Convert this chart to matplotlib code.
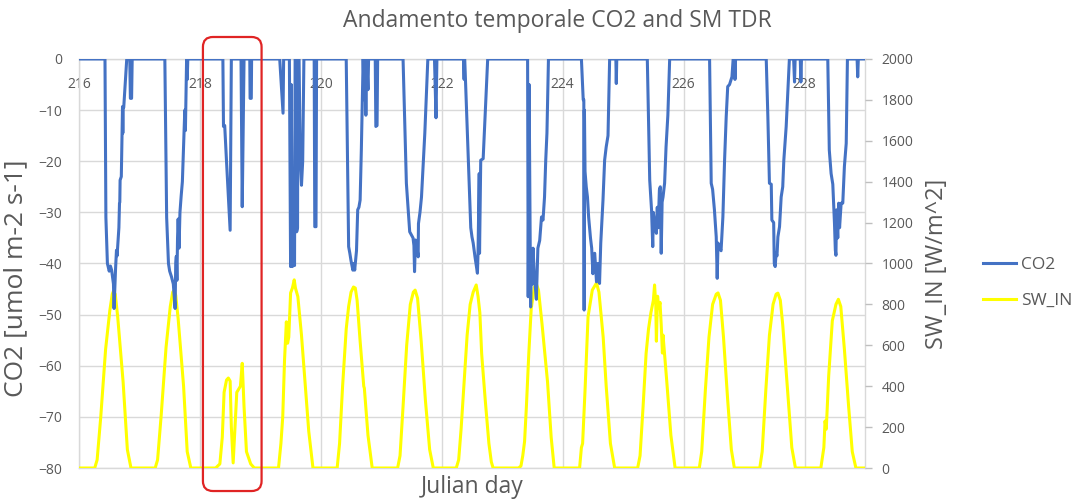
import matplotlib
matplotlib.use("Agg")
import matplotlib.pyplot as plt
from matplotlib.patches import FancyBboxPatch

plt.rcParams['font.family'] = ['Open Sans', 'DejaVu Sans']

# CO2 flux (umol m-2 s-1) as (Julian day, value) pairs, one line per day
co2_points = [
    (216.00, 0), (216.43, 0), (216.445, -31), (216.47, -40), (216.50, -41.5), (216.52, -40.5), (216.54, -41.3),
    (216.57, -44), (216.58, -48.8), (216.595, -44), (216.605, -41), (216.62, -37.4), (216.63, -38.5), (216.66, -33),
    (216.67, -28.2), (216.675, -28), (216.68, -23.7), (216.70, -23), (216.71, -15.9), (216.72, -9.3), (216.725, -14.5),
    (216.73, -9.5), (216.74, -9.5), (216.79, 0), (216.84, 0), (216.85, -7.7), (216.87, -7.7), (216.88, 0),
    (217.42, 0), (217.45, -31), (217.48, -40), (217.50, -41.5), (217.53, -42.6), (217.56, -44), (217.59, -48.8),
    (217.60, -40), (217.61, -38.6), (217.62, -43.3), (217.63, -35), (217.64, -31.3), (217.655, -37), (217.67, -30),
    (217.69, -26.8), (217.71, -24), (217.75, -10), (217.76, -14), (217.78, 0), (217.79, -4), (217.80, 0),
    (218.38, 0), (218.39, -13.2), (218.41, -13), (218.44, -20), (218.50, -33.5), (218.52, 0), (218.68, 0),
    (218.70, -28.9), (218.73, 0), (218.825, 0), (218.83, -7.7), (218.85, -7.7), (218.855, 0),
    (219.32, 0), (219.375, -10.6), (219.385, 0), (219.48, 0), (219.50, -40.6), (219.51, -5), (219.53, -40.6),
    (219.55, -38), (219.565, -40.4), (219.575, 0), (219.59, 0), (219.60, -33.8), (219.615, -33), (219.62, 0),
    (219.64, 0), (219.66, -20), (219.68, -24.7), (219.70, -20), (219.72, 0), (219.89, 0), (219.90, -32.8),
    (219.92, -32.8), (219.93, 0),
    (220.42, 0), (220.46, -36.7), (220.48, -38), (220.50, -39.5), (220.53, -41.3), (220.55, -40), (220.56, -41.3),
    (220.59, -37.5), (220.61, -29.5), (220.63, -29), (220.65, -27.6), (220.67, -17.8), (220.70, 0), (220.72, -8),
    (220.73, 0), (220.745, -11), (220.76, 0), (220.78, -6), (220.79, 0), (220.90, 0), (220.91, -13.2),
    (220.93, -13), (220.94, 0),
    (221.36, 0), (221.415, -24.3), (221.47, -33.8), (221.525, -35), (221.54, -36.5), (221.55, -41.6),
    (221.565, -35.4), (221.58, -36), (221.61, -38.7), (221.615, -32.2), (221.64, -30), (221.665, -27),
    (221.72, -14.5), (221.77, 0), (221.88, 0), (221.905, -11.5), (221.92, 0),
    (222.36, 0), (222.37, -4), (222.375, 0), (222.38, 0), (222.46, -26.5), (222.48, -33), (222.50, -34.8),
    (222.52, -36), (222.55, -38.7), (222.59, -41.9), (222.60, -38), (222.62, -22.4), (222.625, -38),
    (222.645, -19.8), (222.685, -19.5), (222.76, 0),
    (223.42, 0), (223.43, -46.5), (223.445, -5), (223.47, -48.5), (223.48, -42), (223.50, -44), (223.51, -37),
    (223.53, -42), (223.565, -47), (223.59, -37), (223.62, -35.5), (223.65, -30.9), (223.675, -31.5),
    (223.70, -27), (223.72, -19.8), (223.74, -14.5), (223.765, 0),
    (224.31, 0), (224.34, -8), (224.35, -8), (224.355, -49.1), (224.36, -10), (224.37, -22), (224.39, -25),
    (224.41, -27), (224.43, -31), (224.46, -35), (224.48, -37), (224.50, -42), (224.53, -38), (224.56, -43.6),
    (224.58, -40), (224.61, -43.9), (224.63, -36), (224.667, -27.6), (224.694, -19.8), (224.72, -17.2),
    (224.75, -15), (224.777, 0), (224.88, 0), (224.887, -4.8), (224.895, 0),
    (225.40, 0), (225.44, -23.7), (225.47, -29.5), (225.49, -36.7), (225.50, -30), (225.52, -32), (225.55, -34.1),
    (225.565, -29), (225.58, -33), (225.60, -25.6), (225.615, -25), (225.63, -38), (225.645, -28), (225.66, -27),
    (225.686, -24.3), (225.71, -17.2), (225.74, -11), (225.77, 0),
    (226.43, 0), (226.457, -24.3), (226.48, -25.5), (226.51, -29.5), (226.54, -34.8), (226.556, -42.9),
    (226.57, -36), (226.595, -37), (226.62, -37.5), (226.65, -30.9), (226.678, -19.8), (226.705, -11.3),
    (226.73, -5.4), (226.76, -5), (226.80, -3.5), (226.82, 0), (226.84, 0), (226.85, -4), (226.86, 0),
    (227.367, 0), (227.394, -11.3), (227.42, -24.3), (227.45, -24.5), (227.46, -31.5), (227.49, -32),
    (227.50, -40), (227.515, -40.6), (227.53, -38), (227.545, -38.5), (227.56, -34.8), (227.587, -32.8),
    (227.614, -27), (227.64, -25), (227.658, -19.8), (227.697, -13.2), (227.75, 0), (227.82, 0),
    (227.835, -4.5), (227.845, 0), (227.93, 0), (227.94, -4.5), (227.95, 0),
    (228.385, 0), (228.41, -17.8), (228.44, -22.4), (228.468, -24.5), (228.496, -32.2), (228.51, -37.4),
    (228.52, -38.4), (228.53, -29.5), (228.55, -35), (228.565, -28.2), (228.58, -33), (228.606, -28.2),
    (228.633, -28.2), (228.66, -21), (228.69, -16.5), (228.71, 0), (228.87, 0), (228.88, -3.5), (228.89, 0),
    (229.00, 0),
]

# Incoming short-wave radiation (W/m^2) as (Julian day, value) pairs
sw_points = [
    (216.00, 0), (216.26, 0), (216.30, 40), (216.36, 250), (216.44, 580), (216.51, 770), (216.55, 850),
    (216.57, 865), (216.60, 850), (216.64, 740), (216.73, 420), (216.80, 90), (216.86, 0),
    (217.26, 0), (217.30, 40), (217.36, 260), (217.44, 590), (217.51, 790), (217.55, 860), (217.57, 868),
    (217.60, 845), (217.64, 730), (217.73, 400), (217.79, 80), (217.85, 0),
    (218.26, 0), (218.33, 20), (218.37, 150), (218.40, 370), (218.44, 430), (218.47, 440), (218.50, 425),
    (218.52, 200), (218.55, 25), (218.58, 200), (218.61, 370), (218.67, 400), (218.70, 512), (218.73, 300),
    (218.77, 80), (218.84, 20), (218.90, 0),
    (219.30, 0), (219.34, 120), (219.37, 250), (219.40, 530), (219.43, 715), (219.45, 610), (219.47, 640),
    (219.50, 856), (219.53, 880), (219.56, 920), (219.58, 880), (219.62, 838), (219.68, 650), (219.74, 416),
    (219.80, 180), (219.87, 0),
    (220.27, 0), (220.31, 120), (220.36, 400), (220.42, 680), (220.46, 790), (220.50, 860), (220.54, 885),
    (220.57, 880), (220.60, 820), (220.65, 620), (220.70, 440), (220.71, 400), (220.72, 390), (220.78, 160),
    (220.85, 0),
    (221.27, 0), (221.31, 60), (221.36, 300), (221.42, 600), (221.48, 800), (221.53, 860), (221.56, 870),
    (221.60, 830), (221.66, 620), (221.73, 330), (221.80, 90), (221.86, 0),
    (222.24, 0), (222.28, 40), (222.32, 190), (222.37, 420), (222.42, 650), (222.47, 800), (222.52, 860),
    (222.57, 895), (222.60, 840), (222.63, 760), (222.66, 560), (222.67, 520), (222.72, 330), (222.78, 120),
    (222.82, 30), (222.85, 0),
    (223.27, 0), (223.31, 10), (223.34, 60), (223.37, 130), (223.40, 300), (223.44, 560), (223.48, 780),
    (223.53, 880), (223.56, 905), (223.60, 870), (223.66, 700), (223.75, 420), (223.81, 150), (223.86, 0),
    (224.28, 0), (224.31, 100), (224.33, 120), (224.37, 380), (224.42, 740), (224.49, 870), (224.56, 905),
    (224.60, 860), (224.65, 700), (224.67, 640), (224.72, 400), (224.79, 120), (224.86, 0),
    (225.24, 0), (225.28, 60), (225.33, 300), (225.38, 560), (225.42, 680), (225.46, 760), (225.50, 820),
    (225.52, 895), (225.54, 800), (225.55, 620), (225.57, 840), (225.59, 780), (225.61, 810), (225.63, 700),
    (225.65, 562), (225.66, 650), (225.72, 430), (225.79, 160), (225.86, 0),
    (226.26, 0), (226.30, 80), (226.36, 380), (226.42, 640), (226.48, 800), (226.54, 850), (226.57, 856),
    (226.61, 820), (226.66, 640), (226.73, 330), (226.79, 90), (226.84, 0),
    (227.26, 0), (227.30, 80), (227.36, 380), (227.42, 650), (227.48, 800), (227.53, 850), (227.56, 855),
    (227.60, 820), (227.64, 700), (227.72, 380), (227.79, 100), (227.85, 0),
    (228.27, 0), (228.30, 60), (228.32, 100), (228.34, 230), (228.36, 190), (228.40, 450), (228.46, 720),
    (228.52, 800), (228.56, 825), (228.60, 790), (228.66, 580), (228.73, 300), (228.79, 80), (228.85, 0),
    (229.00, 0),
]

day_ticks = [216, 218, 220, 222, 224, 226, 228]
co2_ticks = [-80, -70, -60, -50, -40, -30, -20, -10, 0]
sw_ticks = [0, 200, 400, 600, 800, 1000, 1200, 1400, 1600, 1800, 2000]
day_range = (216, 229)
co2_range = (-80, 0)
sw_range = (0, 2000)

# Day highlighted with a rounded frame (overcast day 218)
highlight_days = (218.05, 219.02)
highlight_co2 = (-84.5, 4.3)

TEXT = '#595959'
GRID = '#D9D9D9'
BLUE = '#4472C4'
YELLOW = '#FFFF00'
RED = '#E02424'

co2_day, co2_val = zip(*co2_points)
sw_day, sw_val = zip(*sw_points)

fig = plt.figure(figsize=(10.85, 4.99), dpi=100)
fig.patch.set_facecolor('white')
rect = [0.0728, 0.0621, 0.7244, 0.8197]

ax = fig.add_axes(rect)                                 # CO2 scale, grid, left labels
ax_sw = ax.twinx()                                      # secondary scale for SW_IN
ax_top = fig.add_axes(rect, sharex=ax, sharey=ax)       # CO2 line drawn above SW_IN

ax.set_xlim(*day_range)
ax.set_ylim(*co2_range)
ax_sw.set_ylim(*sw_range)

ax.set_xticks(day_ticks)
ax.set_yticks(co2_ticks)
ax.xaxis.tick_top()
ax.xaxis.set_label_position('bottom')
ax.tick_params(axis='x', length=0, pad=-24, labelsize=10, labelcolor=TEXT)
ax.tick_params(axis='y', length=0, pad=12, labelsize=10, labelcolor=TEXT)
ax.grid(True, color=GRID, linewidth=1)
ax.set_axisbelow(True)
for side in ['left', 'right', 'top', 'bottom']:
    ax.spines[side].set_color(GRID)
    ax.spines[side].set_linewidth(1)

ax_sw.set_yticks(sw_ticks)
ax_sw.tick_params(axis='y', length=5, width=1, color='#BFBFBF', pad=7,
                  labelsize=10, labelcolor=TEXT)
for side in ['left', 'right', 'top', 'bottom']:
    ax_sw.spines[side].set_visible(False)
ax_sw.patch.set_visible(False)

ax_top.axis('off')
ax_top.patch.set_visible(False)

sw_line, = ax_sw.plot(sw_day, sw_val, color=YELLOW, linewidth=2.2, label='SW_IN',
                      solid_joinstyle='round')
co2_line, = ax_top.plot(co2_day, co2_val, color=BLUE, linewidth=2.2, label='CO2',
                        solid_joinstyle='round')

fig.suptitle('Andamento temporale CO2 and SM TDR', fontsize=16.5, color=TEXT,
             x=557 / 1085, y=1 - 21 / 499, va='center')
ax.set_xlabel('Julian day', fontsize=16.5, color=TEXT, labelpad=5)
ax.set_ylabel('CO2 [umol m-2 s-1]', fontsize=19, color=TEXT)
ax.yaxis.set_label_coords(-0.064, 0.465)
ax_sw.set_ylabel('SW_IN [W/m^2]', fontsize=17, color=TEXT, labelpad=8)

fig.legend(handles=[co2_line, sw_line], labels=['CO2', 'SW_IN'],
           loc='center left', bbox_to_anchor=(983 / 1085, 1 - 283 / 499),
           frameon=False, fontsize=12.5, handlelength=1.9, handletextpad=0.3,
           labelspacing=1.1, borderpad=0, borderaxespad=0, labelcolor=TEXT)

# Rounded frame around the highlighted day, corners kept circular on screen
p0 = ax.transData.transform((day_range[0], co2_range[0]))
p1 = ax.transData.transform((day_range[1], co2_range[1]))
x_per_px = (day_range[1] - day_range[0]) / (p1[0] - p0[0])
y_per_px = (co2_range[1] - co2_range[0]) / (p1[1] - p0[1])
frame = FancyBboxPatch((highlight_days[0], highlight_co2[0]),
                       highlight_days[1] - highlight_days[0],
                       highlight_co2[1] - highlight_co2[0],
                       boxstyle=f'round,pad=0,rounding_size={10 * x_per_px}',
                       mutation_aspect=y_per_px / x_per_px,
                       transform=ax_top.transData, clip_on=False,
                       fill=False, edgecolor=RED, linewidth=1.6, zorder=5)
ax_top.add_patch(frame)

fig.savefig('out.png', dpi=100, facecolor='white')
